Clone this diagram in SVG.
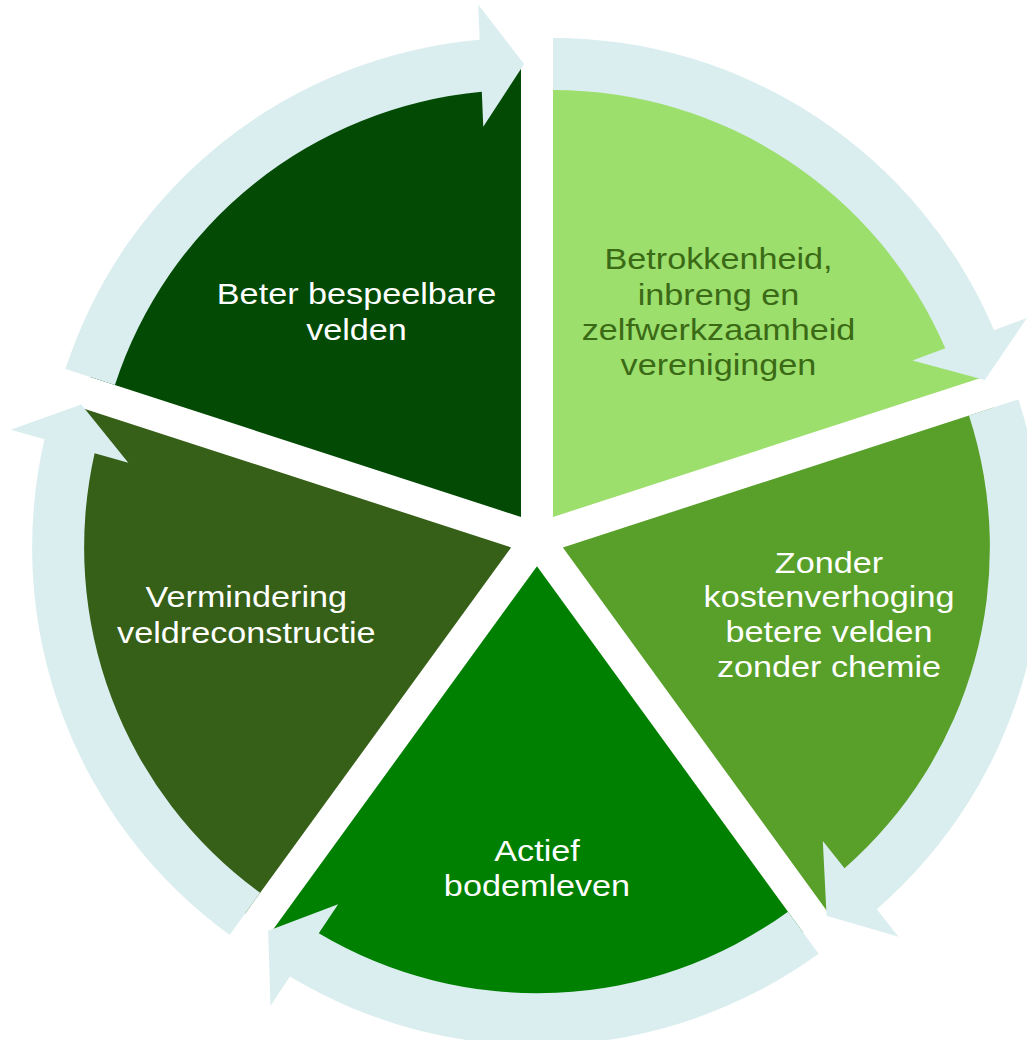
<svg xmlns="http://www.w3.org/2000/svg" width="1027" height="1040" viewBox="0 0 1027 1040">
<style>
.lbl{font-family:"Liberation Sans",Arial,sans-serif;font-size:30px;text-anchor:middle;fill:#ffffff}
.dark{fill:#3B6A16}
.arr{fill:#DAEDEF}
</style>
<defs>
<path id="slice" d="M0,0 L0,-453 A453,453 0 0 1 430.83,-139.99 Z"/>
<path id="arrow" d="M0,-427 A427,427 0 0 1 392.27,-168.68 L359.48,-156.53 L431.79,-136.97 L473.88,-198.93 L441.09,-186.78 A479,479 0 0 0 0,-479 Z"/>
</defs>
<rect width="1027" height="1040" fill="#ffffff"/>
<g id="node-betrokkenheid">
<use href="#slice" fill="#9CDF6C" transform="translate(537,539) rotate(0) translate(16,-22)"/>
</g>
<g id="node-zonder">
<use href="#slice" fill="#58A02A" transform="translate(537,539) rotate(72) translate(16,-22)"/>
</g>
<g id="node-actief">
<use href="#slice" fill="#008000" transform="translate(537,539) rotate(144) translate(16,-22)"/>
</g>
<g id="node-vermindering">
<use href="#slice" fill="#365F17" transform="translate(537,539) rotate(216) translate(16,-22)"/>
</g>
<g id="node-beter">
<use href="#slice" fill="#034A04" transform="translate(537,539) rotate(288) translate(16,-22)"/>
</g>
<g id="connectors" class="arr">
<use href="#arrow" transform="translate(537,539) rotate(0) translate(16,-22)"/>
<use href="#arrow" transform="translate(537,539) rotate(72) translate(16,-22)"/>
<use href="#arrow" transform="translate(537,539) rotate(144) translate(16,-22)"/>
<use href="#arrow" transform="translate(537,539) rotate(216) translate(16,-22)"/>
<use href="#arrow" transform="translate(537,539) rotate(288) translate(16,-22)"/>
</g>
<g id="labels">
<text class="lbl dark" transform="translate(718.5,0) scale(1.14,1)"><tspan x="0" y="269.5">Betrokkenheid,</tspan><tspan x="0" y="304.8">inbreng en</tspan><tspan x="0" y="340.1">zelfwerkzaamheid</tspan><tspan x="0" y="375.4">verenigingen</tspan></text>
<text class="lbl" transform="translate(829,0) scale(1.14,1)"><tspan x="0" y="573.5">Zonder</tspan><tspan x="0" y="607.5">kostenverhoging</tspan><tspan x="0" y="642.3">betere velden</tspan><tspan x="0" y="677.3">zonder chemie</tspan></text>
<text class="lbl" transform="translate(537,0) scale(1.14,1)"><tspan x="0" y="860.7">Actief</tspan><tspan x="0" y="895.8">bodemleven</tspan></text>
<text class="lbl" transform="translate(246.3,0) scale(1.14,1)"><tspan x="0" y="606.8">Vermindering</tspan><tspan x="0" y="643">veldreconstructie</tspan></text>
<text class="lbl" transform="translate(356.5,0) scale(1.14,1)"><tspan x="0" y="304.3">Beter bespeelbare</tspan><tspan x="0" y="340">velden</tspan></text>
</g>
</svg>
